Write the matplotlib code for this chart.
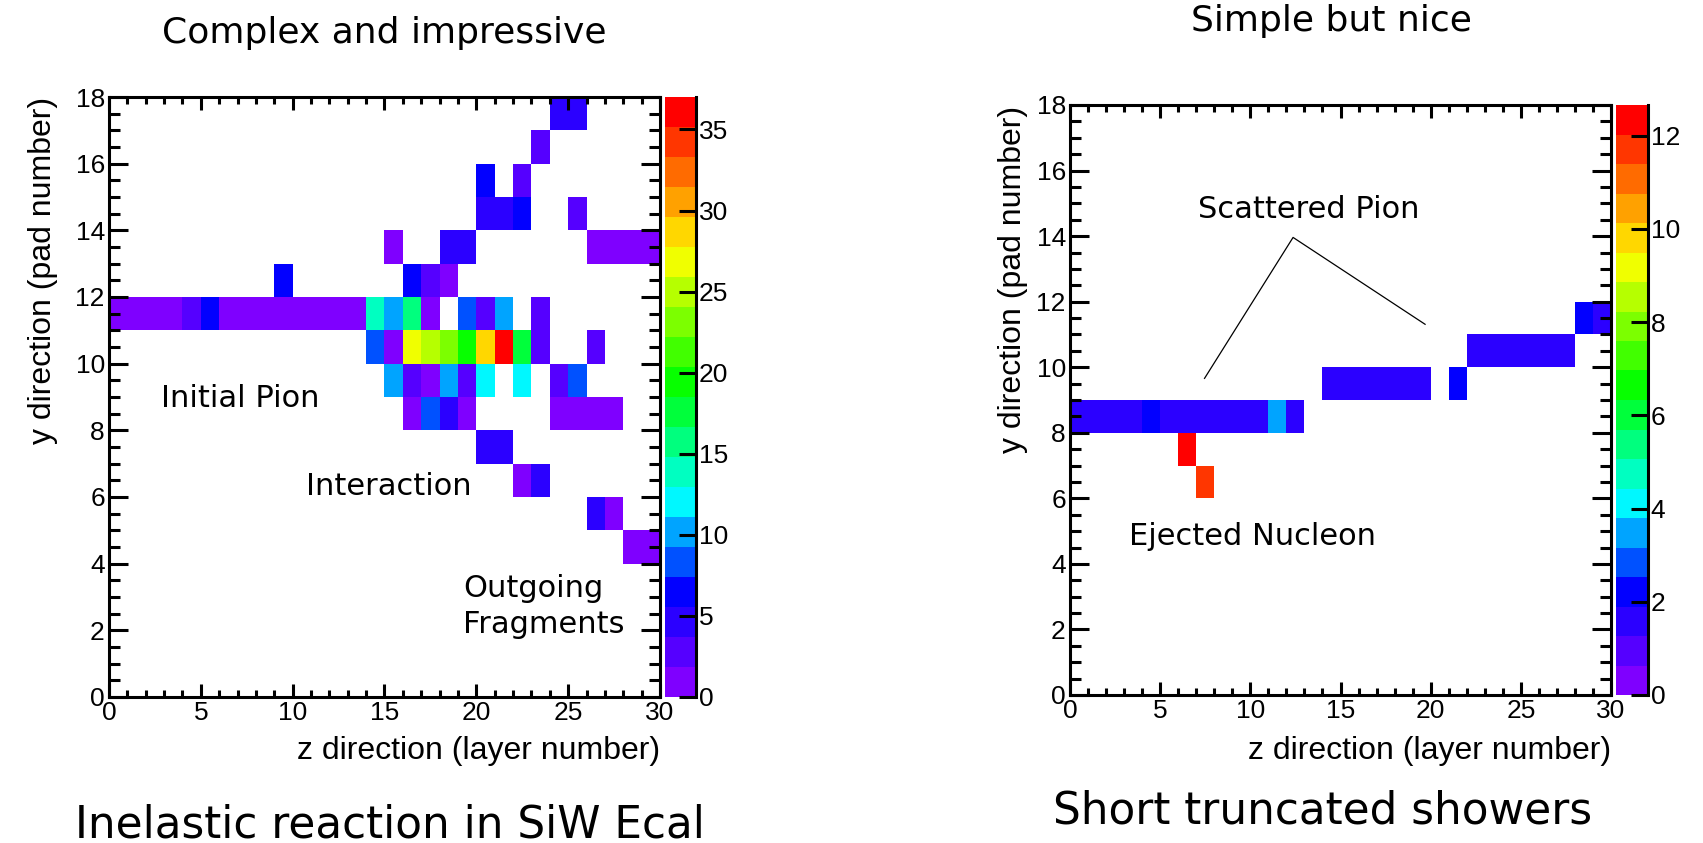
import numpy as np
import matplotlib.pyplot as plt
from matplotlib import font_manager
from matplotlib.colors import LinearSegmentedColormap, BoundaryNorm
from matplotlib.ticker import MultipleLocator

# ---- inelastic event: hit layer (z), pad (y) and energy (MIP) ----
inel_layer = [
    24, 25,
    23,
    20, 22,
    20, 21, 22, 25,
    15, 18, 19, 26, 27, 28, 29,
    9, 16, 17, 18,
    0, 1, 2, 3, 4, 5, 6, 7, 8, 9, 10, 11, 12, 13, 14, 15, 16, 17, 19, 20, 21, 23,
    14, 15, 16, 17, 18, 19, 20, 21, 22, 23, 26,
    15, 16, 17, 18, 19, 20, 22, 24, 25,
    16, 17, 18, 19, 24, 25, 26, 27,
    20, 21,
    22, 23,
    26, 27,
    28, 29,
]
inel_pad = [
    17, 17,
    16,
    15, 15,
    14, 14, 14, 14,
    13, 13, 13, 13, 13, 13, 13,
    12, 12, 12, 12,
    11, 11, 11, 11, 11, 11, 11, 11, 11, 11, 11, 11, 11, 11, 11, 11, 11, 11, 11, 11, 11, 11,
    10, 10, 10, 10, 10, 10, 10, 10, 10, 10, 10,
    9, 9, 9, 9, 9, 9, 9, 9, 9,
    8, 8, 8, 8, 8, 8, 8, 8,
    7, 7,
    6, 6,
    5, 5,
    4, 4,
]
inel_mip = [
    4.5, 4.0,
    3.6,
    6.2, 3.6,
    4.5, 4.5, 6.2, 3.6,
    1.2, 4.5, 4.5, 1.2, 1.2, 1.2, 1.2,
    6.2, 6.2, 3.6, 1.5,
    1.2, 1.2, 1.2, 1.2, 3.6, 6.2, 1.2, 1.2, 1.2, 1.2, 1.2, 1.2, 1.2, 1.2, 14.0, 10.0, 16.0, 1.5, 8.0, 3.6, 10.0, 3.6,
    8.0, 1.5, 27.0, 25.0, 23.0, 20.0, 28.7, 36.5, 18.0, 2.0, 3.6,
    10.0, 3.6, 1.8, 10.0, 3.6, 12.0, 12.0, 3.6, 8.0,
    1.5, 7.8, 4.5, 1.8, 1.3, 1.3, 1.3, 1.3,
    4.5, 4.5,
    1.8, 4.5,
    4.5, 1.8,
    1.5, 1.5,
]
inel_max = 37.0

# ---- short truncated shower ----
short_layer = [
    28, 29,
    22, 23, 24, 25, 26, 27,
    14, 15, 16, 17, 18, 19, 21,
    0, 1, 2, 3, 4, 5, 6, 7, 8, 9, 10, 11, 12,
    6,
    7,
]
short_pad = [
    11, 11,
    10, 10, 10, 10, 10, 10,
    9, 9, 9, 9, 9, 9, 9,
    8, 8, 8, 8, 8, 8, 8, 8, 8, 8, 8, 8, 8,
    7,
    6,
]
short_mip = [
    2.2, 1.4,
    1.4, 1.4, 1.4, 1.4, 1.4, 1.4,
    1.4, 1.4, 1.4, 1.4, 1.4, 1.4, 2.2,
    1.4, 1.4, 1.4, 1.4, 2.2, 1.4, 1.4, 1.4, 1.4, 1.4, 1.4, 3.4, 1.4,
    12.5,
    11.6,
]
short_max = 12.66

n_layers, n_pads = 30, 18

# 20-level rainbow palette, violet -> red
palette = LinearSegmentedColormap.from_list(
    "rainbow20",
    [(0.0, "#7f00ff"), (0.16, "#0000ff"), (0.32, "#00ffff"),
     (0.52, "#00ff00"), (0.75, "#ffff00"), (1.0, "#ff0000")],
).resampled(20)

names = {f.name for f in font_manager.fontManager.ttflist}
if "Liberation Sans Narrow" in names:
    tick_font, tick_size = "Liberation Sans Narrow", 21
else:
    tick_font, tick_size = "Liberation Sans", 19
label_font = "Liberation Sans"
note_font = "DejaVu Sans"

W, H = 1703, 843
fig = plt.figure(figsize=(W / 100, H / 100), dpi=100)
fig.patch.set_facecolor("white")


def px_box(x0, y0, x1, y1):
    return [x0 / W, 1 - y1 / H, (x1 - x0) / W, (y1 - y0) / H]


def draw_event(ax_box, cax_box, layers, pads, mips, vmax, cticks):
    ax = fig.add_axes(ax_box)
    cax = fig.add_axes(cax_box)

    hist, xe, ye = np.histogram2d(
        np.array(layers) + 0.5, np.array(pads) + 0.5,
        bins=[n_layers, n_pads], range=[[0, n_layers], [0, n_pads]],
        weights=mips,
    )
    hist = np.ma.masked_equal(hist.T, 0)
    norm = BoundaryNorm(np.linspace(0, vmax, 21), palette.N)
    mesh = ax.pcolormesh(xe, ye, hist, cmap=palette, norm=norm)

    ax.set_xlim(0, n_layers)
    ax.set_ylim(0, n_pads)
    ax.xaxis.set_major_locator(MultipleLocator(5))
    ax.xaxis.set_minor_locator(MultipleLocator(1))
    ax.yaxis.set_major_locator(MultipleLocator(2))
    ax.yaxis.set_minor_locator(MultipleLocator(0.5))
    ax.tick_params(which="both", direction="in", top=True, right=True,
                   width=2.2, labelsize=tick_size, pad=3)
    ax.tick_params(axis="x", which="major", length=9.5)
    ax.tick_params(axis="x", which="minor", length=5)
    ax.tick_params(axis="y", which="major", length=14)
    ax.tick_params(axis="y", which="minor", length=8)
    for lab in ax.get_xticklabels() + ax.get_yticklabels():
        lab.set_fontfamily(tick_font)
    for sp in ax.spines.values():
        sp.set_linewidth(2.2)

    cb = fig.colorbar(mesh, cax=cax, ticks=cticks)
    cb.outline.set_visible(False)
    cax.plot([1, 1], [0, 1], color="black", lw=2.2,
             transform=cax.transAxes, clip_on=False)
    cax.tick_params(direction="in", length=12, width=2.2,
                    labelsize=tick_size, pad=2)
    cax.minorticks_off()
    for lab in cax.get_yticklabels():
        lab.set_fontfamily(tick_font)
    return ax


# left: inelastic reaction
ax1 = draw_event(px_box(109, 97, 660, 697), px_box(665, 97, 696, 697),
                 inel_layer, inel_pad, inel_mip, inel_max, list(range(0, 36, 5)))
ax1.text(2.83, 8.7, "Initial Pion", fontsize=22, family=note_font)
ax1.text(10.72, 6.06, "Interaction", fontsize=22, family=note_font)
ax1.text(19.3, 3.0, "Outgoing", fontsize=22, family=note_font)
ax1.text(19.3, 1.92, "Fragments", fontsize=22, family=note_font)

# right: short shower
ax2 = draw_event(px_box(1070, 105, 1611, 695), px_box(1616, 105, 1648, 695),
                 short_layer, short_pad, short_mip, short_max, list(range(0, 13, 2)))
ax2.text(7.1, 14.54, "Scattered Pion", fontsize=22, family=note_font)
ax2.plot([7.46, 12.37, 19.69], [9.66, 13.96, 11.31], color="black", lw=0.9)
ax2.text(3.25, 4.57, "Ejected Nucleon", fontsize=22, family=note_font)

# axis titles
for x_end in (660, 1611):
    fig.text(x_end / W, 1 - 751 / H, "z direction (layer number)",
             ha="right", va="center", fontsize=23, family=label_font)
fig.text(43 / W, 1 - 97 / H, "y direction (pad number)", rotation=90,
         ha="center", va="top", fontsize=23, family=label_font)
fig.text(1013 / W, 1 - 106 / H, "y direction (pad number)", rotation=90,
         ha="center", va="top", fontsize=23, family=label_font)

# headings
fig.text(384 / W, 1 - 43 / H, "Complex and impressive", ha="center",
         va="baseline", fontsize=26, family=note_font)
fig.text(1331 / W, 1 - 31 / H, "Simple but nice", ha="center",
         va="baseline", fontsize=26, family=note_font)
fig.text(390 / W, 1 - 837 / H, "Inelastic reaction in SiW Ecal", ha="center",
         va="baseline", fontsize=31.5, family=note_font)
fig.text(1323 / W, 1 - 823 / H, "Short truncated showers", ha="center",
         va="baseline", fontsize=31.5, family=note_font)

fig.savefig("out.png", dpi=100, facecolor="white")
